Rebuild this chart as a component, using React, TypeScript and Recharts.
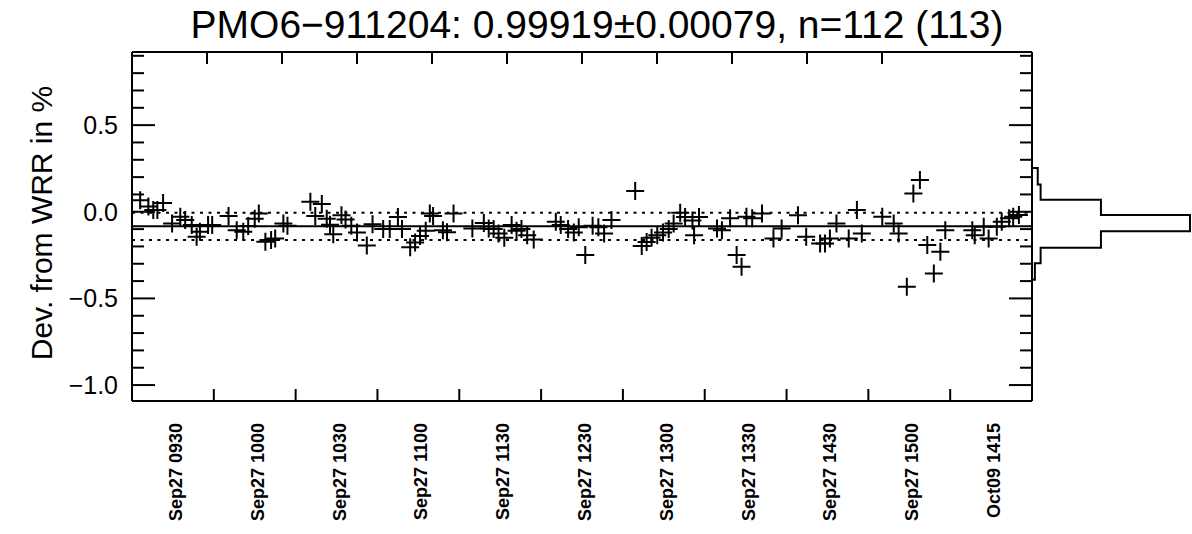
import { ComposedChart, Scatter, Line, XAxis, YAxis, ReferenceLine } from 'recharts'

const TITLE = 'PMO6\u2212911204: 0.99919\u00b10.00079, n=112 (113)'
const Y_TITLE = 'Dev. from WRR in %'

// measurement position along the axis (10 units per major tick) and deviation in %
const MEAS_POS = [
  1.0, 2.0, 2.6, 3.1, 3.8, 4.9, 5.9, 6.5, 7.3, 7.9, 8.3, 9.3, 9.8,
  11.8, 12.8, 13.6, 14.2, 15.0, 15.5, 16.3, 17.0, 17.5, 18.5, 19.0,
  21.8, 22.4, 23.2, 23.8, 24.2, 24.6, 25.6, 26.1, 26.8, 27.5, 28.7, 29.4,
  30.7, 31.5, 32.5, 33.0, 34.0, 34.6, 35.2, 35.9, 36.4, 36.8, 38.0, 38.5, 39.3,
  41.6, 43.0, 43.6, 44.2, 44.8, 45.5, 46.4, 47.0, 47.6, 48.3, 49.1,
  51.8, 52.4, 53.3, 54.0, 54.6, 55.4, 56.3, 57.0, 57.7, 58.6,
  61.5, 62.3, 62.9, 63.5, 64.2, 64.9, 65.6, 66.2, 67.0, 67.6, 68.5, 68.7, 69.3,
  71.5, 72.1, 73.1, 73.9, 74.5, 75.1, 75.8, 77.0, 78.4, 79.4,
  81.4, 82.4, 84.1, 84.7, 85.3, 86.1, 87.6, 88.6, 89.2,
  91.7, 93.1, 93.7, 94.7, 95.5, 96.3, 97.2, 98.0, 98.8, 99.4,
  102.7, 103.0, 104.1, 104.7, 105.7, 106.3, 107.2, 107.7, 108.4,
]
const DEV_PCT = [
  0.067, 0.03, 0.01, 0.01, 0.05, -0.067, -0.029, -0.048, -0.077, -0.144, -0.115, -0.077, -0.077,
  -0.024, -0.106, -0.115, -0.082, -0.04, -0.01, -0.173, -0.163, -0.154, -0.067, -0.08,
  0.058, -0.024, 0.045, -0.04, -0.075, -0.13, -0.02, -0.045, -0.08, -0.12, -0.195, -0.072,
  -0.1, -0.1, -0.03, -0.1, -0.205, -0.178, -0.14, -0.11, -0.01, -0.025, -0.106, -0.118, -0.01,
  -0.096, -0.065, -0.096, -0.1, -0.125, -0.15, -0.077, -0.11, -0.1, -0.135, -0.16,
  -0.058, -0.077, -0.1, -0.12, -0.09, -0.25, -0.08, -0.09, -0.125, -0.048,
  0.12, -0.197, -0.175, -0.15, -0.135, -0.12, -0.1, -0.068, -0.005, -0.03, -0.05, -0.135, -0.03,
  -0.096, -0.106, -0.038, -0.25, -0.317, -0.029, -0.038, -0.01, -0.154, -0.096,
  -0.02, -0.144, -0.183, -0.183, -0.154, -0.067, -0.154, 0.01, -0.125,
  -0.029, -0.067, -0.125, -0.433, 0.106, 0.183, -0.192, -0.356, -0.231, -0.106,
  -0.106, -0.135, -0.087, -0.154, -0.087, -0.058, -0.038, -0.029, -0.019,
]

const MEAN_DEV = -0.084
const BAND_DEV = [-0.005, -0.163]

const HIST_EDGES = [0.223, 0.127, 0.037, -0.058, -0.152, -0.24, -0.328, -0.423]
const HIST_COUNTS = [1, 3, 24, 55, 24, 3, 2]

const X_MAJOR = [0, 10, 20, 30, 40, 50, 60, 70, 80, 90, 100, 110]
const X_LABEL_POS = [5, 15, 25, 35, 45, 55, 65, 75, 85, 95, 105]
const X_LABELS = [
  'Sep27 0930', 'Sep27 1000', 'Sep27 1030', 'Sep27 1100', 'Sep27 1130', 'Sep27 1230',
  'Sep27 1300', 'Sep27 1330', 'Sep27 1430', 'Sep27 1500', 'Oct09 1415',
]
const Y_TICKS = [-1.0, -0.9, -0.8, -0.7, -0.6, -0.5, -0.4, -0.3, -0.2, -0.1, 0, 0.1, 0.2, 0.3, 0.4, 0.5, 0.6, 0.7, 0.8, 0.9]
const Y_MAJOR = [-1.0, -0.5, 0, 0.5]
const Y_DOMAIN = [-1.092, 0.922]

const W = 1192
const H = 534
const PLOT_L = 132
const PLOT_R = 1032
const PLOT_T = 52
const PLOT_B = 401
const FONT = '"Liberation Sans", Arial, Helvetica, sans-serif'

const points = MEAS_POS.map((x, i) => ({ x, y: DEV_PCT[i] }))

// step outline: each vertex starts a bin edge, stepAfter draws the box
const histData = [
  { e: HIST_EDGES[0], c: 0 },
  ...HIST_COUNTS.map((c, i) => ({ e: HIST_EDGES[i + 1], c })),
  { e: HIST_EDGES[HIST_EDGES.length - 1], c: 0 },
]

const isMajorY = (v: number) => Y_MAJOR.some((m) => Math.abs(m - v) < 1e-6)
const fmtY = (v: number) => (v < 0 ? '\u2212' : '') + Math.abs(v).toFixed(1)

const Cross = (p: any) => {
  const { cx, cy } = p
  if (cx == null || cy == null) return <g />
  return (
    <path
      d={`M${cx - 9},${cy}H${cx + 9}M${cx},${cy - 9}V${cy + 9}`}
      stroke="#000"
      strokeWidth={2}
      fill="none"
    />
  )
}

const LeftTick = (p: any) => {
  const v = p.payload.value
  const major = isMajorY(v)
  return (
    <g>
      <line x1={PLOT_L} x2={PLOT_L + (major ? 23 : 12)} y1={p.y} y2={p.y} stroke="#000" strokeWidth={2} />
      {major && (
        <text x={PLOT_L - 14} y={p.y} dy="0.36em" textAnchor="end" fontSize={25} fontFamily={FONT} fill="#000">
          {fmtY(v)}
        </text>
      )}
    </g>
  )
}

const RightTick = (p: any) => {
  const major = isMajorY(p.payload.value)
  return <line x1={PLOT_R} x2={PLOT_R - (major ? 23 : 12)} y1={p.y} y2={p.y} stroke="#000" strokeWidth={2} />
}

const TopTick = (p: any) => {
  const v = p.payload.value
  if (v <= 0 || v >= 110) return <g />
  return <line x1={p.x} x2={p.x} y1={PLOT_T} y2={PLOT_T + 12} stroke="#000" strokeWidth={2} />
}

const BottomTick = (p: any) => {
  const v = p.payload.value
  const li = X_LABEL_POS.indexOf(v)
  if (li >= 0) {
    const tx = p.x + 9
    const ty = PLOT_B + 22
    return (
      <text
        x={tx}
        y={ty}
        transform={`rotate(-90 ${tx} ${ty})`}
        textAnchor="end"
        fontSize={18}
        fontWeight="bold"
        fontFamily={FONT}
        fill="#000"
      >
        {X_LABELS[li]}
      </text>
    )
  }
  if (v <= 0 || v >= 110) return <g />
  return <line x1={p.x} x2={p.x} y1={PLOT_B} y2={PLOT_B - 12} stroke="#000" strokeWidth={2} />
}

const axisLine = { stroke: '#000', strokeWidth: 2 }

export default function App() {
  return (
    <div style={{ position: 'absolute', left: 0, top: 0, width: W, height: H, background: '#fff', fontFamily: FONT }}>
      <ComposedChart
        width={W}
        height={H}
        data={points}
        margin={{ top: PLOT_T - 12, bottom: H - PLOT_B - 30, left: PLOT_L - 60, right: W - PLOT_R - 10 }}
        style={{ position: 'absolute', left: 0, top: 0 }}
      >
        <XAxis
          xAxisId="b"
          type="number"
          dataKey="x"
          domain={[0, 110]}
          ticks={[...X_MAJOR, ...X_LABEL_POS].sort((a, b) => a - b)}
          interval={0}
          allowDataOverflow
          height={30}
          axisLine={axisLine}
          tickLine={false}
          tick={(p: any) => <BottomTick {...p} />}
        />
        <XAxis
          xAxisId="t"
          orientation="top"
          type="number"
          domain={[0, 110]}
          ticks={X_MAJOR}
          interval={0}
          allowDataOverflow
          height={12}
          axisLine={axisLine}
          tickLine={false}
          tick={(p: any) => <TopTick {...p} />}
        />
        <YAxis
          yAxisId="l"
          type="number"
          dataKey="y"
          domain={Y_DOMAIN}
          ticks={Y_TICKS}
          interval={0}
          allowDataOverflow
          width={60}
          axisLine={axisLine}
          tickLine={false}
          tick={(p: any) => <LeftTick {...p} />}
        />
        <YAxis
          yAxisId="r"
          orientation="right"
          type="number"
          domain={Y_DOMAIN}
          ticks={Y_TICKS}
          interval={0}
          allowDataOverflow
          width={10}
          axisLine={axisLine}
          tickLine={false}
          tick={(p: any) => <RightTick {...p} />}
        />
        <ReferenceLine xAxisId="b" yAxisId="l" y={MEAN_DEV} stroke="#000" strokeWidth={2} />
        {BAND_DEV.map((b) => (
          <ReferenceLine key={b} xAxisId="b" yAxisId="l" y={b} stroke="#000" strokeWidth={2} strokeDasharray="3 5.5" />
        ))}
        <Scatter xAxisId="b" yAxisId="l" data={points} dataKey="y" shape={Cross} isAnimationActive={false} />
      </ComposedChart>

      <ComposedChart
        layout="vertical"
        width={W - PLOT_R + 10}
        height={H}
        data={histData}
        margin={{ top: PLOT_T, bottom: H - PLOT_B, left: 10, right: 0 }}
        style={{ position: 'absolute', left: PLOT_R - 10, top: 0 }}
      >
        <XAxis type="number" dataKey="c" domain={[0, 55.7]} hide allowDataOverflow />
        <YAxis type="number" dataKey="e" domain={Y_DOMAIN} hide allowDataOverflow />
        <Line dataKey="c" type="stepAfter" stroke="#000" strokeWidth={2} dot={false} isAnimationActive={false} />
      </ComposedChart>

      <svg width={W} height={H} style={{ position: 'absolute', left: 0, top: 0, pointerEvents: 'none' }}>
        <text x={597} y={38} textAnchor="middle" fontSize={39} fontFamily={FONT} fill="#000">
          {TITLE}
        </text>
        <text x={52} y={223} transform="rotate(-90 52 223)" textAnchor="middle" fontSize={30} fontFamily={FONT} fill="#000">
          {Y_TITLE}
        </text>
      </svg>
    </div>
  )
}
